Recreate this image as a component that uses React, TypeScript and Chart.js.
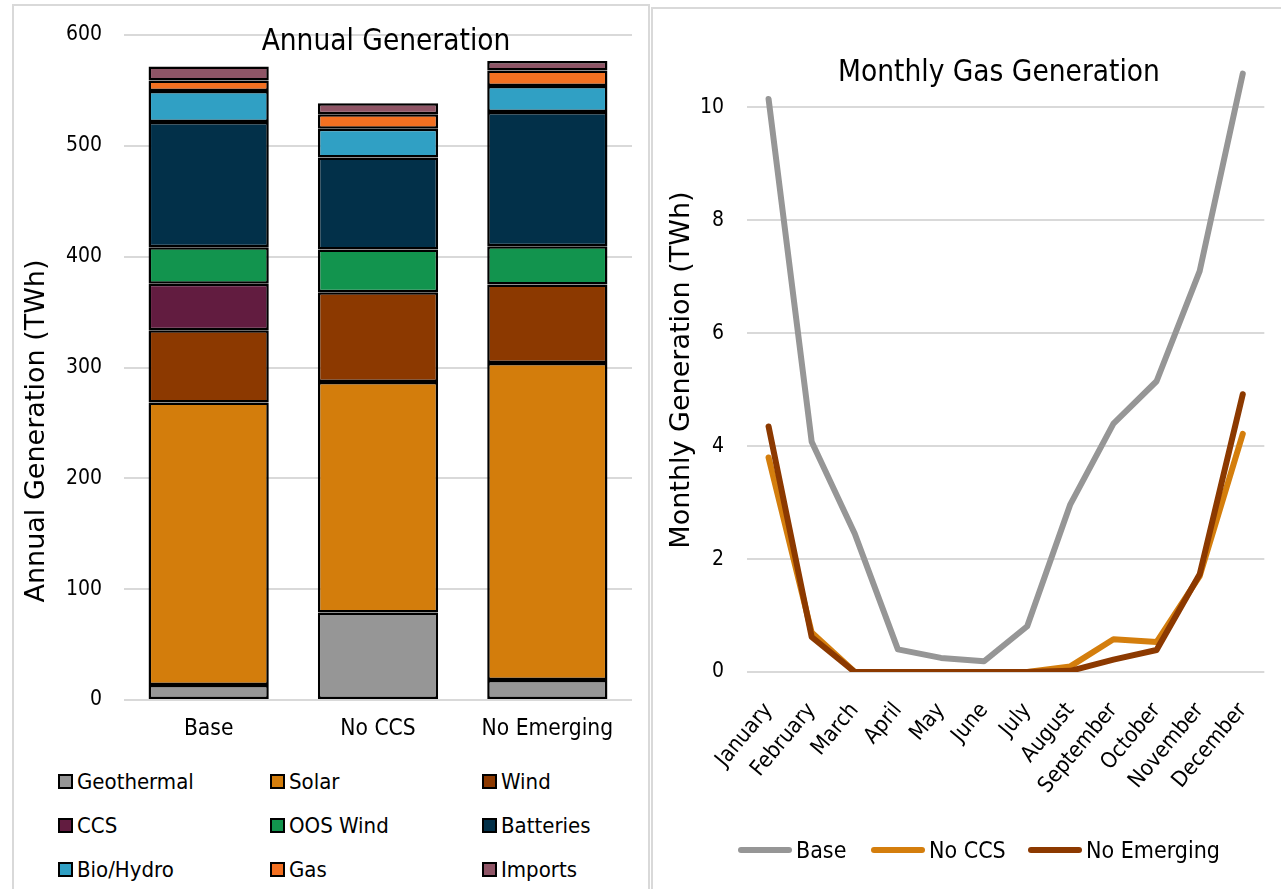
import React, { useEffect, useRef } from 'react';
import { Chart, registerables } from 'chart.js';

Chart.register(...registerables);

const FONT = '"DejaVu Sans Condensed", "DejaVu Sans", sans-serif';
const FONT_WIDE = '"DejaVu Sans", sans-serif';
const TEXT = '#000000';
const GRID = '#D9D9D9';

// ---------- Annual generation (TWh) ----------
const scenarios = ['Base', 'No CCS', 'No Emerging'];
const geothermal = [13.5, 79, 18];
const solar = [255, 208, 286];
const wind = [65, 81, 71];
const ccs = [42, null, null];
const oosWind = [33, 38.5, 34.5];
const batteries = [113, 83, 121];
const bioHydro = [28, 26, 23.5];
const gas = [9.5, 13, 14];
const imports = [12.5, 10, 8.5];

const sourceNames = ['Geothermal', 'Solar', 'Wind', 'CCS', 'OOS Wind', 'Batteries', 'Bio/Hydro', 'Gas', 'Imports'];
const sourceValues = [geothermal, solar, wind, ccs, oosWind, batteries, bioHydro, gas, imports];
const sourceColors = ['#969696', '#D37D0C', '#8C3900', '#621C40', '#12944E', '#023049', '#30A0C4', '#F37021', '#8F5566'];

// ---------- Monthly gas generation (TWh) ----------
const months = ['January', 'February', 'March', 'April', 'May', 'June', 'July', 'August', 'September', 'October', 'November', 'December'];
const gasBase = [10.15, 4.08, 2.45, 0.4, 0.25, 0.19, 0.81, 2.97, 4.4, 5.15, 7.1, 10.6];
const gasNoCCS = [3.8, 0.7, 0, 0, 0, 0, 0, 0.1, 0.58, 0.53, 1.7, 4.22];
const gasNoEmerging = [4.35, 0.62, 0, 0, 0, 0, 0, 0.02, 0.22, 0.39, 1.73, 4.92];
const lineNames = ['Base', 'No CCS', 'No Emerging'];
const lineValues = [gasBase, gasNoCCS, gasNoEmerging];
const lineColors = ['#969696', '#D47E0D', '#8C3900'];

type Label = { text: string; x: number; y: number; size: number; family: string; rotate?: boolean };

function textLabels(labels: Label[]) {
  return {
    id: 'textLabels',
    afterDraw(chart: any) {
      const ctx = chart.ctx;
      labels.forEach((l) => {
        ctx.save();
        ctx.font = `${l.size}px ${l.family}`;
        ctx.fillStyle = TEXT;
        ctx.textAlign = 'center';
        ctx.textBaseline = 'middle';
        ctx.translate(l.x, l.y);
        if (l.rotate) ctx.rotate(-Math.PI / 2);
        ctx.fillText(l.text, 0, 0);
        ctx.restore();
      });
    },
  };
}

function AnnualChart() {
  const ref = useRef<HTMLCanvasElement>(null);
  useEffect(() => {
    const chart = new Chart(ref.current!, {
      type: 'bar',
      data: {
        labels: scenarios,
        datasets: sourceNames.map((name, i) => ({
          label: name,
          data: sourceValues[i],
          backgroundColor: sourceColors[i],
          borderColor: '#000000',
          borderWidth: 2.5,
          borderSkipped: false,
          barPercentage: 0.71,
          categoryPercentage: 1,
        })),
      },
      options: {
        responsive: false,
        animation: false,
        layout: { padding: { left: 0, right: 16, top: 35, bottom: 0 } },
        plugins: { legend: { display: false }, title: { display: false }, tooltip: { enabled: false } },
        scales: {
          x: {
            stacked: true,
            grid: { display: false },
            border: { display: false },
            ticks: { font: { family: FONT, size: 22.6 }, color: TEXT, padding: 8 },
            afterFit: (s: any) => { s.height = 60; },
          },
          y: {
            stacked: true,
            min: 0,
            max: 600,
            ticks: { stepSize: 100, font: { family: FONT, size: 21 }, color: TEXT, padding: 22 },
            grid: { color: GRID, lineWidth: 2, drawTicks: false },
            border: { display: false },
            afterFit: (s: any) => { s.width = 124; },
          },
        },
      },
      plugins: [
        textLabels([
          { text: 'Annual Generation', x: 386, y: 42, size: 29.5, family: FONT },
          { text: 'Annual Generation (TWh)', x: 37, y: 431, size: 27, family: FONT_WIDE, rotate: true },
        ]),
      ],
    } as any);
    return () => chart.destroy();
  }, []);
  return <canvas ref={ref} width={648} height={760} style={{ position: 'absolute', left: 0, top: 0, width: 648, height: 760 }} />;
}

function MonthlyChart() {
  const ref = useRef<HTMLCanvasElement>(null);
  useEffect(() => {
    const chart = new Chart(ref.current!, {
      type: 'line',
      data: {
        labels: months,
        datasets: lineNames.map((name, i) => ({
          label: name,
          data: lineValues[i],
          borderColor: lineColors[i],
          backgroundColor: lineColors[i],
          borderWidth: 6,
          borderCapStyle: 'round',
          borderJoinStyle: 'round',
          pointRadius: 0,
          tension: 0,
          fill: false,
          order: 2 - i,
        })),
      },
      options: {
        responsive: false,
        animation: false,
        layout: { padding: { left: 0, right: 0, top: 51, bottom: 0 } },
        plugins: { title: { display: false }, tooltip: { enabled: false }, legend: { display: false } },
        scales: {
          x: {
            offset: true,
            grid: { display: false },
            border: { display: false },
            ticks: { font: { family: FONT, size: 22 }, color: TEXT, minRotation: 50, maxRotation: 50, padding: 18 },
            afterFit: (s: any) => { s.height = 217; },
          },
          y: {
            min: 0,
            max: 11,
            ticks: { stepSize: 2, font: { family: FONT, size: 21 }, color: TEXT, padding: 23 },
            afterBuildTicks: (s: any) => { s.ticks = s.ticks.filter((t: any) => t.value % 2 === 0); },
            grid: { color: GRID, lineWidth: 2, drawTicks: false },
            border: { display: false },
            afterFit: (s: any) => { s.width = 95; },
          },
        },
      },
      plugins: [
        textLabels([
          { text: 'Monthly Gas Generation', x: 347, y: 73, size: 29.5, family: FONT },
          { text: 'Monthly Generation (TWh)', x: 30, y: 370, size: 27, family: FONT_WIDE, rotate: true },
        ]),
      ],
    } as any);
    return () => chart.destroy();
  }, []);
  return <canvas ref={ref} width={629} height={889} style={{ position: 'absolute', left: 652, top: 0, width: 629, height: 889 }} />;
}

const barLegendCols = [58, 270, 482];
const barLegendRows = [781, 825, 869];
const lineLegendX = [738, 871, 1028];

export default function App() {
  return (
    <div style={{ position: 'absolute', left: 0, top: 0, width: 1281, height: 889, overflow: 'hidden', background: '#fff' }}>
      <div style={{ position: 'absolute', left: 12, top: 4, width: 634, height: 920, border: `2px solid ${GRID}` }} />
      <div style={{ position: 'absolute', left: 651, top: 7, width: 700, height: 920, border: `2px solid ${GRID}` }} />
      <AnnualChart />
      <MonthlyChart />
      {sourceNames.map((name, i) => (
        <div
          key={name}
          style={{
            position: 'absolute',
            left: barLegendCols[i % 3],
            top: barLegendRows[Math.floor(i / 3)] - 14,
            height: 28,
            display: 'flex',
            alignItems: 'center',
            fontFamily: FONT,
            fontSize: 22,
            color: TEXT,
            whiteSpace: 'nowrap',
          }}
        >
          <span style={{ display: 'inline-block', width: 11, height: 11, background: sourceColors[i], border: '2px solid #000', marginRight: 4 }} />
          <span>{name}</span>
        </div>
      ))}
      {lineNames.map((name, i) => (
        <div
          key={name}
          style={{
            position: 'absolute',
            left: lineLegendX[i],
            top: 850 - 14,
            height: 28,
            display: 'flex',
            alignItems: 'center',
            fontFamily: FONT,
            fontSize: 23,
            color: TEXT,
            whiteSpace: 'nowrap',
          }}
        >
          <span style={{ display: 'inline-block', width: 54, height: 6, borderRadius: 3, background: lineColors[i], marginRight: 4 }} />
          <span>{name}</span>
        </div>
      ))}
    </div>
  );
}
